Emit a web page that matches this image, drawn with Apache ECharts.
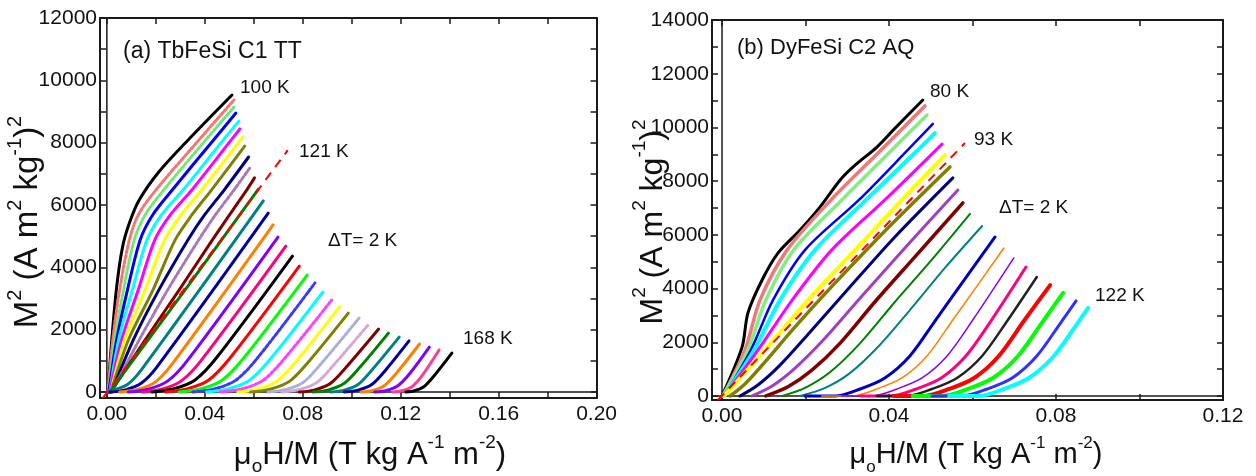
<!DOCTYPE html>
<html><head><meta charset="utf-8">
<script src="https://cdn.jsdelivr.net/npm/echarts@6/dist/echarts.min.js"></script>
<style>
html,body{margin:0;padding:0;background:#fff;width:1256px;height:476px;overflow:hidden}
#ca{position:absolute;left:0;top:0;width:620px;height:476px}
#cb{position:absolute;left:620px;top:0;width:636px;height:476px}
</style></head>
<body><div id="ca"></div><div id="cb"></div>
<script>
// ---------------- Panel (a) TbFeSi C1 TT : x = mu0H/M, y = M^2 ----------------
const A_TEMPS = [100,102,104,106,108,110,112,114,116,118,120,122,124,126,128,130,132,134,136,138,140,142,144,146,148,150,152,154,156,158,160,162,164,166,168];
const a100 = [[0.0004,0],[0.0020,1670],[0.0040,3370],[0.0064,4650],[0.0092,5420],[0.0132,6160],[0.0212,7060],[0.0331,8080],[0.0511,9530]];
const a102 = [[0.0004,0],[0.0024,1670],[0.0052,3270],[0.0092,4880],[0.0128,5680],[0.0200,6480],[0.0375,8080],[0.0519,9370]];
const a104 = [[0.0008,0],[0.0032,1670],[0.0068,3270],[0.0112,4880],[0.0156,5680],[0.0232,6480],[0.0403,8080],[0.0519,9140]];
const a106 = [[0.0008,0],[0.0040,1670],[0.0084,3270],[0.0136,4880],[0.0187,5680],[0.0267,6480],[0.0435,8080],[0.0527,8950]];
const a108 = [[0.0012,0],[0.0048,1670],[0.0104,3270],[0.0164,4880],[0.0223,5680],[0.0311,6480],[0.0475,8080],[0.0539,8690]];
const a110 = [[0.0012,0],[0.0060,1670],[0.0128,3270],[0.0196,4880],[0.0259,5680],[0.0347,6480],[0.0507,8080],[0.0543,8440]];
const a112 = [[0.0016,0],[0.0072,1670],[0.0156,3270],[0.0236,4880],[0.0303,5680],[0.0387,6480],[0.0555,8180]];
const a114 = [[0.0016,0],[0.0088,1670],[0.0188,3270],[0.0279,4880],[0.0347,5680],[0.0427,6480],[0.0563,7890]];
const a116 = [[0.0020,0],[0.0108,1670],[0.0212,3270],[0.0331,4880],[0.0399,5680],[0.0479,6480],[0.0579,7540]];
const a118 = [[0.0020,0],[0.0132,1670],[0.0248,3270],[0.0375,4880],[0.0443,5680],[0.0519,6480],[0.0587,7220]];
const a120 = [[0.0016,0],[0.0156,1670],[0.0295,3270],[0.0431,4880],[0.0571,6480],[0.0603,6870]];
const a122 = [[0.0012,0],[0.0028,160],[0.0068,610],[0.0331,3400],[0.0619,6510]];
const a124 = [[0.0012,0],[0.0028,60],[0.0084,240],[0.0140,700],[0.0639,6130]];
const a126 = [[0.0012,0],[0.0076,70],[0.0140,280],[0.0204,800],[0.0659,5740]];
const a128 = [[0.0052,0],[0.0124,80],[0.0196,310],[0.0267,900],[0.0679,5360]];
const a130 = [[0.0088,0],[0.0168,90],[0.0248,350],[0.0327,990],[0.0699,4970]];
const a132 = [[0.0144,0],[0.0224,90],[0.0303,350],[0.0383,990],[0.0731,4680]];
const a134 = [[0.0184,0],[0.0271,100],[0.0359,380],[0.0447,1090],[0.0758,4360]];
const a136 = [[0.0240,0],[0.0327,100],[0.0415,380],[0.0503,1090],[0.0786,4040]];
const a138 = [[0.0295,0],[0.0383,100],[0.0471,380],[0.0559,1090],[0.0818,3750]];
const a140 = [[0.0351,0],[0.0439,100],[0.0527,380],[0.0615,1090],[0.0850,3500]];
const a142 = [[0.0407,0],[0.0495,100],[0.0583,380],[0.0671,1090],[0.0882,3210]];
const a144 = [[0.0463,0],[0.0551,100],[0.0639,380],[0.0727,1090],[0.0918,2950]];
const a146 = [[0.0535,0],[0.0615,90],[0.0695,350],[0.0774,990],[0.0950,2730]];
const a148 = [[0.0587,0],[0.0667,90],[0.0747,350],[0.0826,990],[0.0986,2530]];
const a150 = [[0.0659,0],[0.0731,80],[0.0802,310],[0.0874,900],[0.1030,2370]];
const a152 = [[0.0715,0],[0.0786,80],[0.0858,310],[0.0930,900],[0.1070,2180]];
const a154 = [[0.0786,0],[0.0850,70],[0.0914,280],[0.0978,800],[0.1110,2020]];
const a156 = [[0.0842,0],[0.0906,70],[0.0970,280],[0.1034,800],[0.1150,1890]];
const a158 = [[0.0914,0],[0.0970,60],[0.1026,240],[0.1082,700],[0.1194,1760]];
const a160 = [[0.0970,0],[0.1026,60],[0.1082,240],[0.1138,700],[0.1234,1640]];
const a162 = [[0.1038,0],[0.1086,50],[0.1134,210],[0.1182,600],[0.1277,1540]];
const a164 = [[0.1094,0],[0.1142,50],[0.1190,210],[0.1238,600],[0.1317,1440]];
const a166 = [[0.1166,0],[0.1206,40],[0.1246,170],[0.1285,500],[0.1357,1350]];
const a168 = [[0.1222,0],[0.1257,40],[0.1293,160],[0.1329,450],[0.1409,1250]];
const A_CURVES = [a100,a102,a104,a106,a108,a110,a112,a114,a116,a118,a120,a122,a124,a126,a128,a130,a132,a134,a136,a138,a140,a142,a144,a146,a148,a150,a152,a154,a156,a158,a160,a162,a164,a166,a168];
const A_FIT_121K = [[-0.0016,-190],[0.0739,7760]];
const A_XTICKS = [0,0.02,0.04,0.06,0.08,0.10,0.12,0.14,0.16,0.18,0.20];
const A_XLABELS = [0,0.04,0.08,0.12,0.16,0.20];
const A_YTICKS = [0,1000,2000,3000,4000,5000,6000,7000,8000,9000,10000,11000,12000];
const A_YLABELS = [0,2000,4000,6000,8000,10000,12000];
const A_RANGE = {xMin:-0.0028, xMax:0.2, yMin:-192, yMax:12000};

// ---------------- Panel (b) DyFeSi C2 AQ ----------------
const B_TEMPS = [80,82,84,86,88,90,92,94,96,98,100,102,104,106,108,110,112,114,116,118,120,122];
const b80  = [[0.0000,0],[0.0048,1820],[0.0062,3090],[0.0096,4320],[0.0134,5320],[0.0187,6180],[0.0235,7040],[0.0283,8040],[0.0314,8530],[0.0371,9270],[0.0410,9900],[0.0481,11020]];
const b82  = [[0.0002,0],[0.0055,1710],[0.0091,3570],[0.0156,5440],[0.0261,7300],[0.0381,9160],[0.0486,10800]];
const b84  = [[0.0002,0],[0.0062,1710],[0.0105,3570],[0.0172,5440],[0.0287,7300],[0.0407,9160],[0.0491,10460]];
const b86  = [[0.0005,0],[0.0069,1710],[0.0122,3570],[0.0199,5440],[0.0328,7300],[0.0445,9160],[0.0505,10130]];
const b88  = [[0.0005,0],[0.0077,1710],[0.0139,3570],[0.0223,5440],[0.0345,7300],[0.0469,9160],[0.0510,9790]];
const b90  = [[0.0005,0],[0.0086,1710],[0.0168,3570],[0.0263,5440],[0.0390,7300],[0.0527,9380]];
const b92  = [[0.0005,0],[0.0103,1710],[0.0206,3570],[0.0319,5440],[0.0431,7300],[0.0534,8970]];
const b94  = [[0.0019,0],[0.0055,450],[0.0103,1270],[0.0175,2570],[0.0271,4210],[0.0402,6330],[0.0546,8530]];
const b96  = [[0.0043,0],[0.0086,410],[0.0139,1150],[0.0211,2380],[0.0302,3980],[0.0414,5920],[0.0553,8120]];
const b98  = [[0.0072,0],[0.0120,370],[0.0175,1040],[0.0247,2160],[0.0331,3650],[0.0438,5510],[0.0565,7670]];
const b100 = [[0.0105,0],[0.0158,340],[0.0216,970],[0.0283,1970],[0.0366,3500],[0.0462,5180],[0.0577,7190]];
const b102 = [[0.0144,0],[0.0199,300],[0.0259,890],[0.0331,1970],[0.0414,3500],[0.0498,4990],[0.0594,6780]];
const b104 = [[0.0187,0],[0.0247,300],[0.0307,860],[0.0378,1900],[0.0450,3200],[0.0534,4770],[0.0623,6330]];
const b106 = [[0.0199,0],[0.0271,0],[0.0331,260],[0.0390,670],[0.0450,1490],[0.0510,2790],[0.0570,4100],[0.0654,5920]];
const b108 = [[0.0239,0],[0.0311,0],[0.0371,260],[0.0431,670],[0.0491,1490],[0.0551,2790],[0.0611,4100],[0.0675,5510]];
const b110 = [[0.0287,0],[0.0359,0],[0.0419,260],[0.0479,670],[0.0539,1490],[0.0599,2790],[0.0699,5140]];
const b112 = [[0.0333,0],[0.0405,0],[0.0465,260],[0.0525,670],[0.0584,1490],[0.0644,2790],[0.0728,4800]];
const b114 = [[0.0371,0],[0.0443,0],[0.0503,260],[0.0563,670],[0.0623,1490],[0.0683,2790],[0.0754,4430]];
const b116 = [[0.0412,0],[0.0484,0],[0.0544,260],[0.0604,670],[0.0663,1490],[0.0723,2790],[0.0786,4130]];
const b118 = [[0.0457,0],[0.0529,0],[0.0589,260],[0.0649,670],[0.0709,1490],[0.0769,2790],[0.0817,3840]];
const b120 = [[0.0503,0],[0.0575,0],[0.0635,260],[0.0695,670],[0.0754,1490],[0.0814,2790],[0.0848,3540]];
const b122 = [[0.0544,0],[0.0616,0],[0.0675,260],[0.0735,670],[0.0795,1490],[0.0855,2790],[0.0877,3280]];
const B_CURVES = [b80,b82,b84,b86,b88,b90,b92,b94,b96,b98,b100,b102,b104,b106,b108,b110,b112,b114,b116,b118,b120,b122];
const B_FIT_93K = [[-0.0010,-150],[0.0582,9420]];
const B_XTICKS = [0,0.02,0.04,0.06,0.08,0.10,0.12];
const B_XLABELS = [0,0.04,0.08,0.12];
const B_YTICKS = [0,1000,2000,3000,4000,5000,6000,7000,8000,9000,10000,11000,12000,13000,14000];
const B_YLABELS = [0,2000,4000,6000,8000,10000,12000,14000];
const B_RANGE = {xMin:-0.0024, xMax:0.12, yMin:-150, yMax:14000};

// ---------------- styles ----------------
const A_COLORS = ['#000000','#ff7070','#70e870','#0000ff','#00ffff','#ff00ff','#ffff00','#808000','#000080','#a878b8','#800000','#008000','#008080','#0000a0','#ff8000','#8000ff','#ff0080',
                  '#000000','#ff0000','#00ff00','#3a3aff','#00ffff','#ff40ff','#ffff00','#808000','#a8b0d8','#d4a8d4','#800000','#008000','#008080','#0000a0','#ff8000','#8000ff','#ff3c96','#000000'];
const A_DOTTED = [102,104,118,140,144,150,152];
const B_COLORS = ['#000000','#f07878','#80ee80','#0000ff','#00ffff','#ff00ff','#ffff00','#808000','#000080','#a040c0','#800000','#008000','#008080','#0000c0','#ff8000','#8000ff','#ff0080','#222222','#ff0000','#00ff00','#3030ff','#00ffff'];
const B_WIDTHS = [3,3.5,3.5,2.5,4,3,4,3.5,3,3,3.5,2,2,3,1.5,1.5,3,2.5,4,4,3,4];

const FF = '"Liberation Sans", Arial, Helvetica, sans-serif';
const INK = '#1a1a1a';

function txt(x, y, text, size, align, rotation, rich) {
  const o = {type:'text', x:x, y:y, silent:true, z:50,
    style:{text:text, fill:'#111', font: size + 'px ' + FF, textAlign: align || 'left', textVerticalAlign:'middle'}};
  if (rotation) o.rotation = rotation;
  if (rich) o.style.rich = rich;
  return o;
}
function richFor(size) {
  const sub = Math.round(size * 0.6);
  const lh = Math.round(size * 1.4);
  return {
    n:{fontSize:size, fontFamily:FF, lineHeight:lh, verticalAlign:'middle', color:'#111'},
    s:{fontSize:sub, fontFamily:FF, lineHeight:lh, verticalAlign:'top', color:'#111'},
    b:{fontSize:sub, fontFamily:FF, lineHeight:lh, verticalAlign:'bottom', color:'#111'}
  };
}
const YTITLE = '{n|M}{s|2}{n| (A m}{s|2}{n| kg}{s|-1}{n|)}{s|2}';
const XTITLE = '{n|\u03bc}{b|o}{n|H/M (T kg A}{s|-1}{n| m}{s|-2}{n|)}';

function axisPair(kind, r, ticks, labels, fmt) {
  const isX = kind === 'x';
  const base = {
    type:'value', min: isX ? r.xMin : r.yMin, max: isX ? r.xMax : r.yMax,
    splitLine:{show:false},
    axisLine:{show:true, onZero:false, lineStyle:{color:INK, width:2}},
    axisTick:{show:true, inside:true, length:6, customValues:ticks, lineStyle:{color:INK, width:1.5}}
  };
  const main = Object.assign({}, base, {
    position: isX ? 'bottom' : 'left',
    axisLabel:{show:true, customValues:labels, formatter:fmt, fontSize:21, fontFamily:FF, color:'#111', margin: isX ? 6 : 3}
  });
  const other = Object.assign({}, base, {
    position: isX ? 'top' : 'right',
    axisLabel:{show:false}
  });
  return [main, other];
}

function build(el, p) {
  const chart = echarts.init(document.getElementById(el), null, {renderer:'canvas'});
  const series = [];
  const zl = {color:INK, width:1.5};
  series.push({type:'line', data:[[0,p.r.yMin],[0,p.r.yMax]], showSymbol:false, lineStyle:zl, silent:true, z:1});
  series.push({type:'line', data:[[p.r.xMin,0],[p.r.xMax,0]], showSymbol:false, lineStyle:zl, silent:true, z:1});
  p.curves.forEach(function(c, i) {
    series.push({type:'line', name: p.temps[i] + ' K', data:c, showSymbol:false, smooth:0.3,
      lineStyle:{color:p.colors[i], width:p.widths[i], type:p.types[i], cap:'round', join:'round'}, silent:true, z:2});
  });
  series.push({type:'line', data:p.fit, showSymbol:false, lineStyle:{color:'#ff0000', width:2, type:[9,7]}, silent:true, z:3});
  chart.setOption({
    animation:false,
    grid:p.grid,
    xAxis: axisPair('x', p.r, p.xt, p.xl, function(v){return v.toFixed(2);}),
    yAxis: axisPair('y', p.r, p.yt, p.yl, function(v){return String(Math.round(v));}),
    series: series,
    graphic: p.texts
  });
}

build('ca', {
  r:A_RANGE, curves:A_CURVES, temps:A_TEMPS, fit:A_FIT_121K,
  colors:A_COLORS,
  widths:A_TEMPS.map(function(){return 3;}),
  types:A_TEMPS.map(function(t){return A_DOTTED.indexOf(t) >= 0 ? [3,2] : 'solid';}),
  xt:A_XTICKS, xl:A_XLABELS, yt:A_YTICKS, yl:A_YLABELS,
  grid:{left:100, top:18, width:508, height:380},
  texts:[
    txt(123, 52, '(a) TbFeSi C1 TT', 23),
    txt(240, 88, '100 K', 19),
    txt(299, 152, '121 K', 19),
    txt(328, 241, '\u0394T= 2 K', 19),
    txt(463, 339, '168 K', 19),
    txt(28, 222, YTITLE, 33, 'center', Math.PI/2, richFor(33)),
    txt(370, 455, XTITLE, 31, 'center', 0, richFor(31))
  ]
});

build('cb', {
  r:B_RANGE, curves:B_CURVES, temps:B_TEMPS, fit:B_FIT_93K,
  colors:B_COLORS, widths:B_WIDTHS,
  types:B_TEMPS.map(function(){return 'solid';}),
  xt:B_XTICKS, xl:B_XLABELS, yt:B_YTICKS, yl:B_YLABELS,
  grid:{left:92, top:20, width:511, height:380},
  texts:[
    txt(117, 48, '(b) DyFeSi C2 AQ', 22),
    txt(310, 92, '80 K', 19),
    txt(354, 140, '93 K', 19),
    txt(379, 208, '\u0394T= 2 K', 19),
    txt(475, 296, '122 K', 19),
    txt(33, 222, YTITLE, 32, 'center', Math.PI/2, richFor(32)),
    txt(356, 455, XTITLE, 29, 'center', 0, richFor(29))
  ]
});
</script>
</body></html>
